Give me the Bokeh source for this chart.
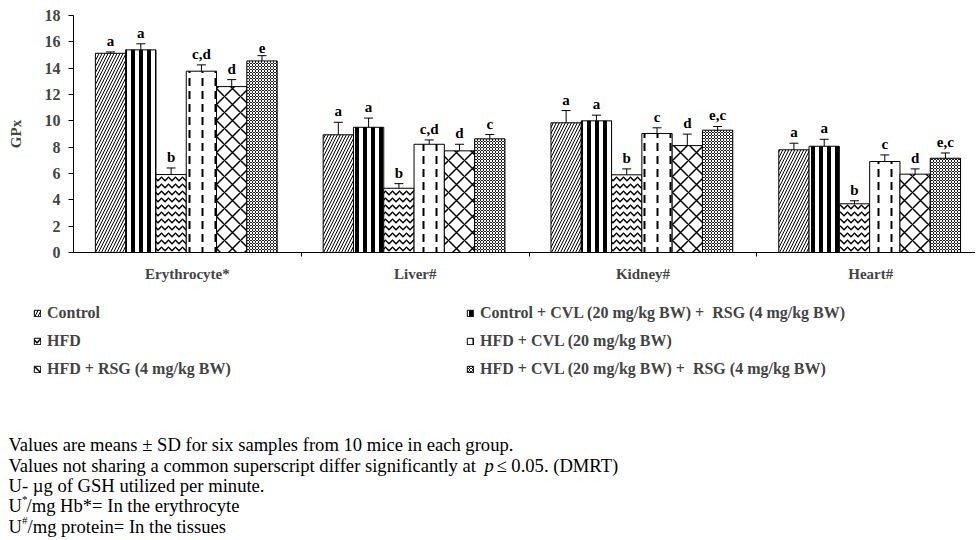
from bokeh.plotting import figure
from bokeh.models import (ColumnDataSource, Range1d, FixedTicker, Whisker, TeeHead,
                          Legend, LegendItem, Label)
from bokeh.embed import file_html
from bokeh.resources import INLINE
from bokeh.core.properties import value

categories = ["Erythrocyte*", "Liver#", "Kidney#", "Heart#"]
groups = ["Control",
          "Control + CVL (20 mg/kg BW) +  RSG (4 mg/kg BW)",
          "HFD",
          "HFD + CVL (20 mg/kg BW)",
          "HFD + RSG (4 mg/kg BW)",
          "HFD + CVL (20 mg/kg BW) +  RSG (4 mg/kg BW)"]

control = [15.13, 8.94, 9.85, 7.80]
control_cvl_rsg = [15.39, 9.51, 10.00, 8.07]
hfd = [5.92, 4.88, 5.90, 3.70]
hfd_cvl = [13.77, 8.22, 9.04, 6.91]
hfd_rsg = [12.60, 7.72, 8.12, 5.95]
hfd_cvl_rsg = [14.55, 8.63, 9.29, 7.16]

control_sd = [0.10, 0.95, 0.93, 0.50]
control_cvl_rsg_sd = [0.46, 0.70, 0.43, 0.53]
hfd_sd = [0.50, 0.35, 0.45, 0.23]
hfd_cvl_sd = [0.48, 0.33, 0.43, 0.50]
hfd_rsg_sd = [0.53, 0.50, 0.87, 0.40]
hfd_cvl_rsg_sd = [0.40, 0.33, 0.28, 0.40]

control_sig = ["a", "a", "a", "a"]
control_cvl_rsg_sig = ["a", "a", "a", "a"]
hfd_sig = ["b", "b", "b", "b"]
hfd_cvl_sig = ["c,d", "c,d", "c", "c"]
hfd_rsg_sig = ["d", "d", "d", "d"]
hfd_cvl_rsg_sig = ["e", "c", "e,c", "e,c"]

yticks = [0, 2, 4, 6, 8, 10, 12, 14, 16, 18]

note_line1 = "Values are means \u00b1  SD for six samples from 10 mice in each group."
note_line2 = "Values not sharing a common superscript differ significantly at "
note_line2_p = "p"
note_line2_end = "\u2264 0.05. (DMRT)"
note_line3 = "U- \u00b5g of GSH utilized per minute."
note_line4 = ["U", "*", "/mg Hb*= In the erythrocyte"]
note_line5 = ["U", "#", "/mg protein= In the  tissues"]

series = [control, control_cvl_rsg, hfd, hfd_cvl, hfd_rsg, hfd_cvl_rsg]
sds = [control_sd, control_cvl_rsg_sd, hfd_sd, hfd_cvl_sd, hfd_rsg_sd, hfd_cvl_rsg_sd]
sigs = [control_sig, control_cvl_rsg_sig, hfd_sig, hfd_cvl_sig, hfd_rsg_sig, hfd_cvl_rsg_sig]

styles = [
    dict(fill_color="white", hatch_pattern="/", hatch_scale=6, hatch_weight=1, hatch_color="black"),
    dict(fill_color="white", hatch_pattern="|", hatch_scale=8, hatch_weight=4, hatch_color="black"),
    dict(fill_color="white", hatch_pattern="v", hatch_scale=7, hatch_weight=1.5, hatch_color="black"),
    dict(fill_color="white", hatch_pattern=":", hatch_scale=13, hatch_weight=2, hatch_color="black"),
    dict(fill_color="white", hatch_pattern="x", hatch_scale=16, hatch_weight=1.5, hatch_color="black"),
    dict(fill_color="#1e1e1e", hatch_pattern="x", hatch_scale=3, hatch_weight=1, hatch_color="white"),
]

FONT = "Liberation Serif"

W, H = 975, 538          # canvas, placed at the page's top-left corner
X0, Y0 = 73, 252         # canvas position of the data origin
PXU_X = 227.8            # pixels per category
PXU_Y = 237 / 18.0       # pixels per GPx unit

p = figure(width=W, height=H, output_backend="svg", toolbar_location=None,
           x_range=Range1d(-X0 / PXU_X, (W - X0) / PXU_X),
           y_range=Range1d(-(H - Y0) / PXU_Y, Y0 / PXU_Y),
           min_border_left=0, min_border_top=0, min_border_right=0, min_border_bottom=0)
p.outline_line_color = None
p.xgrid.visible = False
p.ygrid.visible = False

bw = 0.133
renderers = []
for i, (vals, sd, sig, st) in enumerate(zip(series, sds, sigs, styles)):
    xs = [k + 0.495 + (i - 2.5) * bw for k in range(len(categories))]
    src = ColumnDataSource(dict(x=xs, top=vals,
                                upper=[v + s for v, s in zip(vals, sd)],
                                lower=[v - s for v, s in zip(vals, sd)],
                                sig=sig))
    r = p.vbar(x="x", top="top", width=bw, bottom=0, source=src,
               line_color="black", line_width=1, **st)
    renderers.append(r)
    w = Whisker(base="x", upper="upper", lower="lower", source=src, line_width=1,
                upper_head=TeeHead(size=9, line_width=1),
                lower_head=TeeHead(size=9, line_width=1))
    p.add_layout(w)
    p.text(x="x", y="upper", text="sig", source=src, text_align="center",
           text_baseline="bottom", y_offset=-3, text_font=value(FONT),
           text_font_style="bold", text_font_size="15px", text_color="black")

# axes
p.yaxis.fixed_location = 0
p.yaxis.bounds = (0, 18)
p.yaxis.ticker = FixedTicker(ticks=yticks)
p.yaxis.major_tick_out = 5
p.yaxis.major_tick_in = 0
p.yaxis.minor_tick_out = 0
p.yaxis.minor_tick_in = 0
p.yaxis.major_label_standoff = 8
p.yaxis.major_label_text_font = FONT
p.yaxis.major_label_text_font_style = "bold"
p.yaxis.major_label_text_font_size = "16px"
p.yaxis.axis_label = "GPx"
p.yaxis.axis_label_text_font = FONT
p.yaxis.axis_label_text_font_style = "bold"
p.yaxis.axis_label_text_font_size = "15px"
p.yaxis.axis_label_standoff = 18
p.yaxis.axis_line_color = "black"

centers = [k + 0.5 for k in range(len(categories))]
p.xaxis.fixed_location = 0
p.xaxis.bounds = (0, (W - X0) / PXU_X)
p.xaxis.ticker = FixedTicker(ticks=centers, minor_ticks=[1, 2, 3])
p.xaxis.major_label_overrides = {c: n for c, n in zip(centers, categories)}
p.xaxis.major_tick_out = 0
p.xaxis.major_tick_in = 0
p.xaxis.minor_tick_out = 4
p.xaxis.minor_tick_in = 0
p.xaxis.major_label_standoff = 9
p.xaxis.major_label_text_font = FONT
p.xaxis.major_label_text_font_style = "bold"
p.xaxis.major_label_text_font_size = "15px"

# legend: bottom-left corner given in frame pixels
legend = Legend(items=[LegendItem(label=g, renderers=[r]) for g, r in zip(groups, renderers)],
                location=(33, H - 379), orientation="horizontal", ncols=2,
                glyph_width=8, glyph_height=8, label_width=411, label_height=20,
                spacing=8, padding=0, margin=0, label_standoff=6,
                label_text_font=FONT, label_text_font_style="bold",
                label_text_font_size="16px", border_line_alpha=0,
                background_fill_alpha=0)
p.add_layout(legend)


def note(x, y, text, size="18.6px", style="normal"):
    p.add_layout(Label(x=x, y=H - y, x_units="screen", y_units="screen",
                       text=text, text_baseline="middle", text_font=FONT,
                       text_font_size=size, text_font_style=style, text_color="black"))


note(8, 444, note_line1)
note(8, 465, note_line2)
note(484, 465, note_line2_p, style="italic")
note(496, 465, note_line2_end)
note(8, 485, note_line3)
note(8, 505, note_line4[0])
note(21.5, 498, note_line4[1], size="11px")
note(26, 505, note_line4[2])
note(8, 526, note_line5[0])
note(21.5, 519, note_line5[1], size="11px")
note(27, 526, note_line5[2])

open("out.html", "w").write(file_html(p, INLINE))
